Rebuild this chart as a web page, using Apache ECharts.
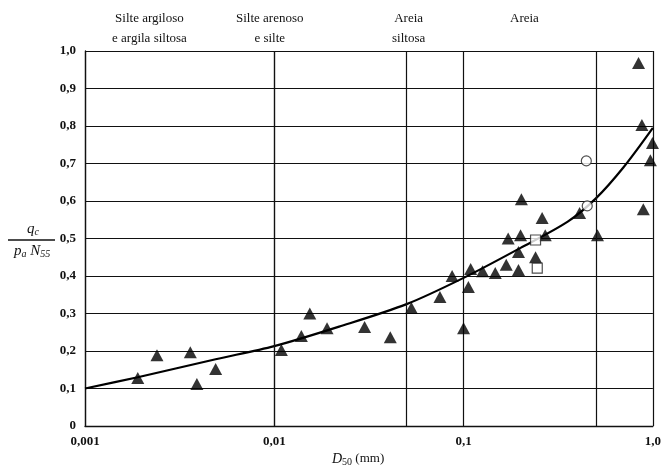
<!DOCTYPE html>
<html>
<head>
<meta charset="utf-8">
<script src="https://cdn.jsdelivr.net/npm/echarts@6/dist/echarts.min.js"></script>
<style>
html,body{margin:0;padding:0;background:#fff;}
#c{width:664px;height:472px;}
</style>
</head>
<body>
<div id="c"></div>
<script>
// ---- data ----
var xTickValues = [0.001, 0.01, 0.1, 1];
var xTickLabels = ['0,001', '0,01', '0,1', '1,0'];
var yTickLabels = ['0', '0,1', '0,2', '0,3', '0,4', '0,5', '0,6', '0,7', '0,8', '0,9', '1,0'];
var extraGridX = [0.005, 0.05, 0.5];
var zoneLabels = ['Silte argiloso\ne argila siltosa', 'Silte arenoso\ne silte', 'Areia\nsiltosa', 'Areia'];

var triangles = [
  [0.0019, 0.128], [0.0024, 0.189], [0.0036, 0.197], [0.0039, 0.112], [0.0049, 0.152],
  [0.0109, 0.203], [0.0139, 0.240], [0.0154, 0.300], [0.019, 0.261], [0.030, 0.264],
  [0.041, 0.237], [0.053, 0.315], [0.075, 0.344], [0.087, 0.400], [0.100, 0.261],
  [0.106, 0.371], [0.109, 0.419], [0.126, 0.413], [0.147, 0.408], [0.168, 0.430],
  [0.172, 0.500], [0.195, 0.416], [0.195, 0.464], [0.200, 0.509], [0.202, 0.605],
  [0.240, 0.450], [0.260, 0.555], [0.270, 0.509], [0.410, 0.568], [0.510, 0.509],
  [0.890, 0.578], [0.840, 0.968], [0.875, 0.803], [0.995, 0.755], [0.970, 0.709]
];
var circles = [[0.445, 0.707], [0.450, 0.587]];
var squares = [[0.240, 0.496], [0.245, 0.421]];
var trendCurve = [
  [0.001, 0.100], [0.0019, 0.130], [0.0049, 0.178], [0.01, 0.213], [0.022, 0.265],
  [0.05, 0.325], [0.1, 0.395], [0.2, 0.475], [0.355, 0.545], [0.5, 0.607],
  [0.7, 0.690], [1.0, 0.795]
];

var FONT = '"Liberation Serif", "DejaVu Serif", serif';
var chart = echarts.init(document.getElementById('c'));

function xLabel(v) {
  for (var i = 0; i < xTickValues.length; i++) {
    if (Math.abs(Math.log10(v) - Math.log10(xTickValues[i])) < 1e-6) return xTickLabels[i];
  }
  return '';
}

chart.setOption({
  backgroundColor: '#fff',
  animation: false,
  grid: { left: 85, right: 9, top: 51, bottom: 46, containLabel: false },
  xAxis: {
    type: 'log', logBase: 10, min: 0.001, max: 1,
    axisLine: { show: true, lineStyle: { color: '#111', width: 1.3 } },
    axisTick: { show: false },
    axisLabel: { formatter: xLabel, color: '#111', fontFamily: FONT, fontSize: 13, fontWeight: 'bold', margin: 9 },
    splitLine: { show: true, lineStyle: { color: '#111', width: 1.2 } },
    minorSplitLine: { show: false }
  },
  yAxis: {
    type: 'value', min: 0, max: 1, interval: 0.1,
    axisLine: { show: true, lineStyle: { color: '#111', width: 1.3 } },
    axisTick: { show: false },
    axisLabel: {
      formatter: function (v) { return yTickLabels[Math.round(v * 10)]; },
      color: '#111', fontFamily: FONT, fontSize: 13, fontWeight: 'bold', margin: 9
    },
    splitLine: { show: true, lineStyle: { color: '#111', width: 1.2 } }
  },
  series: [
    {
      type: 'line', data: trendCurve, smooth: 0.3, showSymbol: false, symbol: 'none',
      lineStyle: { color: '#000', width: 2.2 }, z: 3,
      markLine: {
        silent: true, symbol: ['none', 'none'], label: { show: false },
        lineStyle: { color: '#111', width: 1.2, type: 'solid' },
        data: extraGridX.map(function (v) { return { xAxis: v }; })
      }
    },
    {
      type: 'scatter', data: triangles, symbol: 'triangle', symbolSize: [13, 12],
      itemStyle: { color: '#000' }, z: 4
    },
    {
      type: 'scatter', data: circles, symbol: 'circle', symbolSize: 10,
      itemStyle: { color: '#fff', borderColor: '#222', borderWidth: 1.2 }, z: 4
    },
    {
      type: 'scatter', data: squares, symbol: 'rect', symbolSize: 10,
      itemStyle: { color: '#fff', borderColor: '#222', borderWidth: 1.2 }, z: 4
    }
  ],
  graphic: [
    { type: 'text', left: 112, top: 9, style: { text: zoneLabels[0], font: '13px ' + FONT, fill: '#111', textAlign: 'center', lineHeight: 20, x: 38 } },
    { type: 'text', left: 236, top: 9, style: { text: zoneLabels[1], font: '13px ' + FONT, fill: '#111', textAlign: 'center', lineHeight: 20, x: 36 } },
    { type: 'text', left: 392, top: 9, style: { text: zoneLabels[2], font: '13px ' + FONT, fill: '#111', textAlign: 'center', lineHeight: 20, x: 20 } },
    { type: 'text', left: 510, top: 9, style: { text: zoneLabels[3], font: '13px ' + FONT, fill: '#111', textAlign: 'center', lineHeight: 20 } },
    // y-axis fraction
    { type: 'text', left: 27, top: 222, style: { text: '{i|q}{s|c}', fill: '#111', rich: { i: { font: 'italic 15px ' + FONT }, s: { font: 'italic 10px ' + FONT, padding: [6, 0, 0, 0] } } } },
    { type: 'line', shape: { x1: 8, y1: 240, x2: 55, y2: 240 }, style: { stroke: '#111', lineWidth: 1.3 } },
    { type: 'text', left: 14, top: 244, style: { text: '{i|p}{s|a}{i| N}{s|55}', fill: '#111', rich: { i: { font: 'italic 15px ' + FONT }, s: { font: 'italic 10px ' + FONT, padding: [6, 0, 0, 0] } } } },
    // x-axis name
    { type: 'text', left: 332, top: 452, style: { text: '{i|D}{s|50}{n| (mm)}', fill: '#111', rich: { i: { font: 'italic 14px ' + FONT }, s: { font: '10px ' + FONT, padding: [6, 0, 0, 0] }, n: { font: '13px ' + FONT } } } }
  ]
});
</script>
</body>
</html>
